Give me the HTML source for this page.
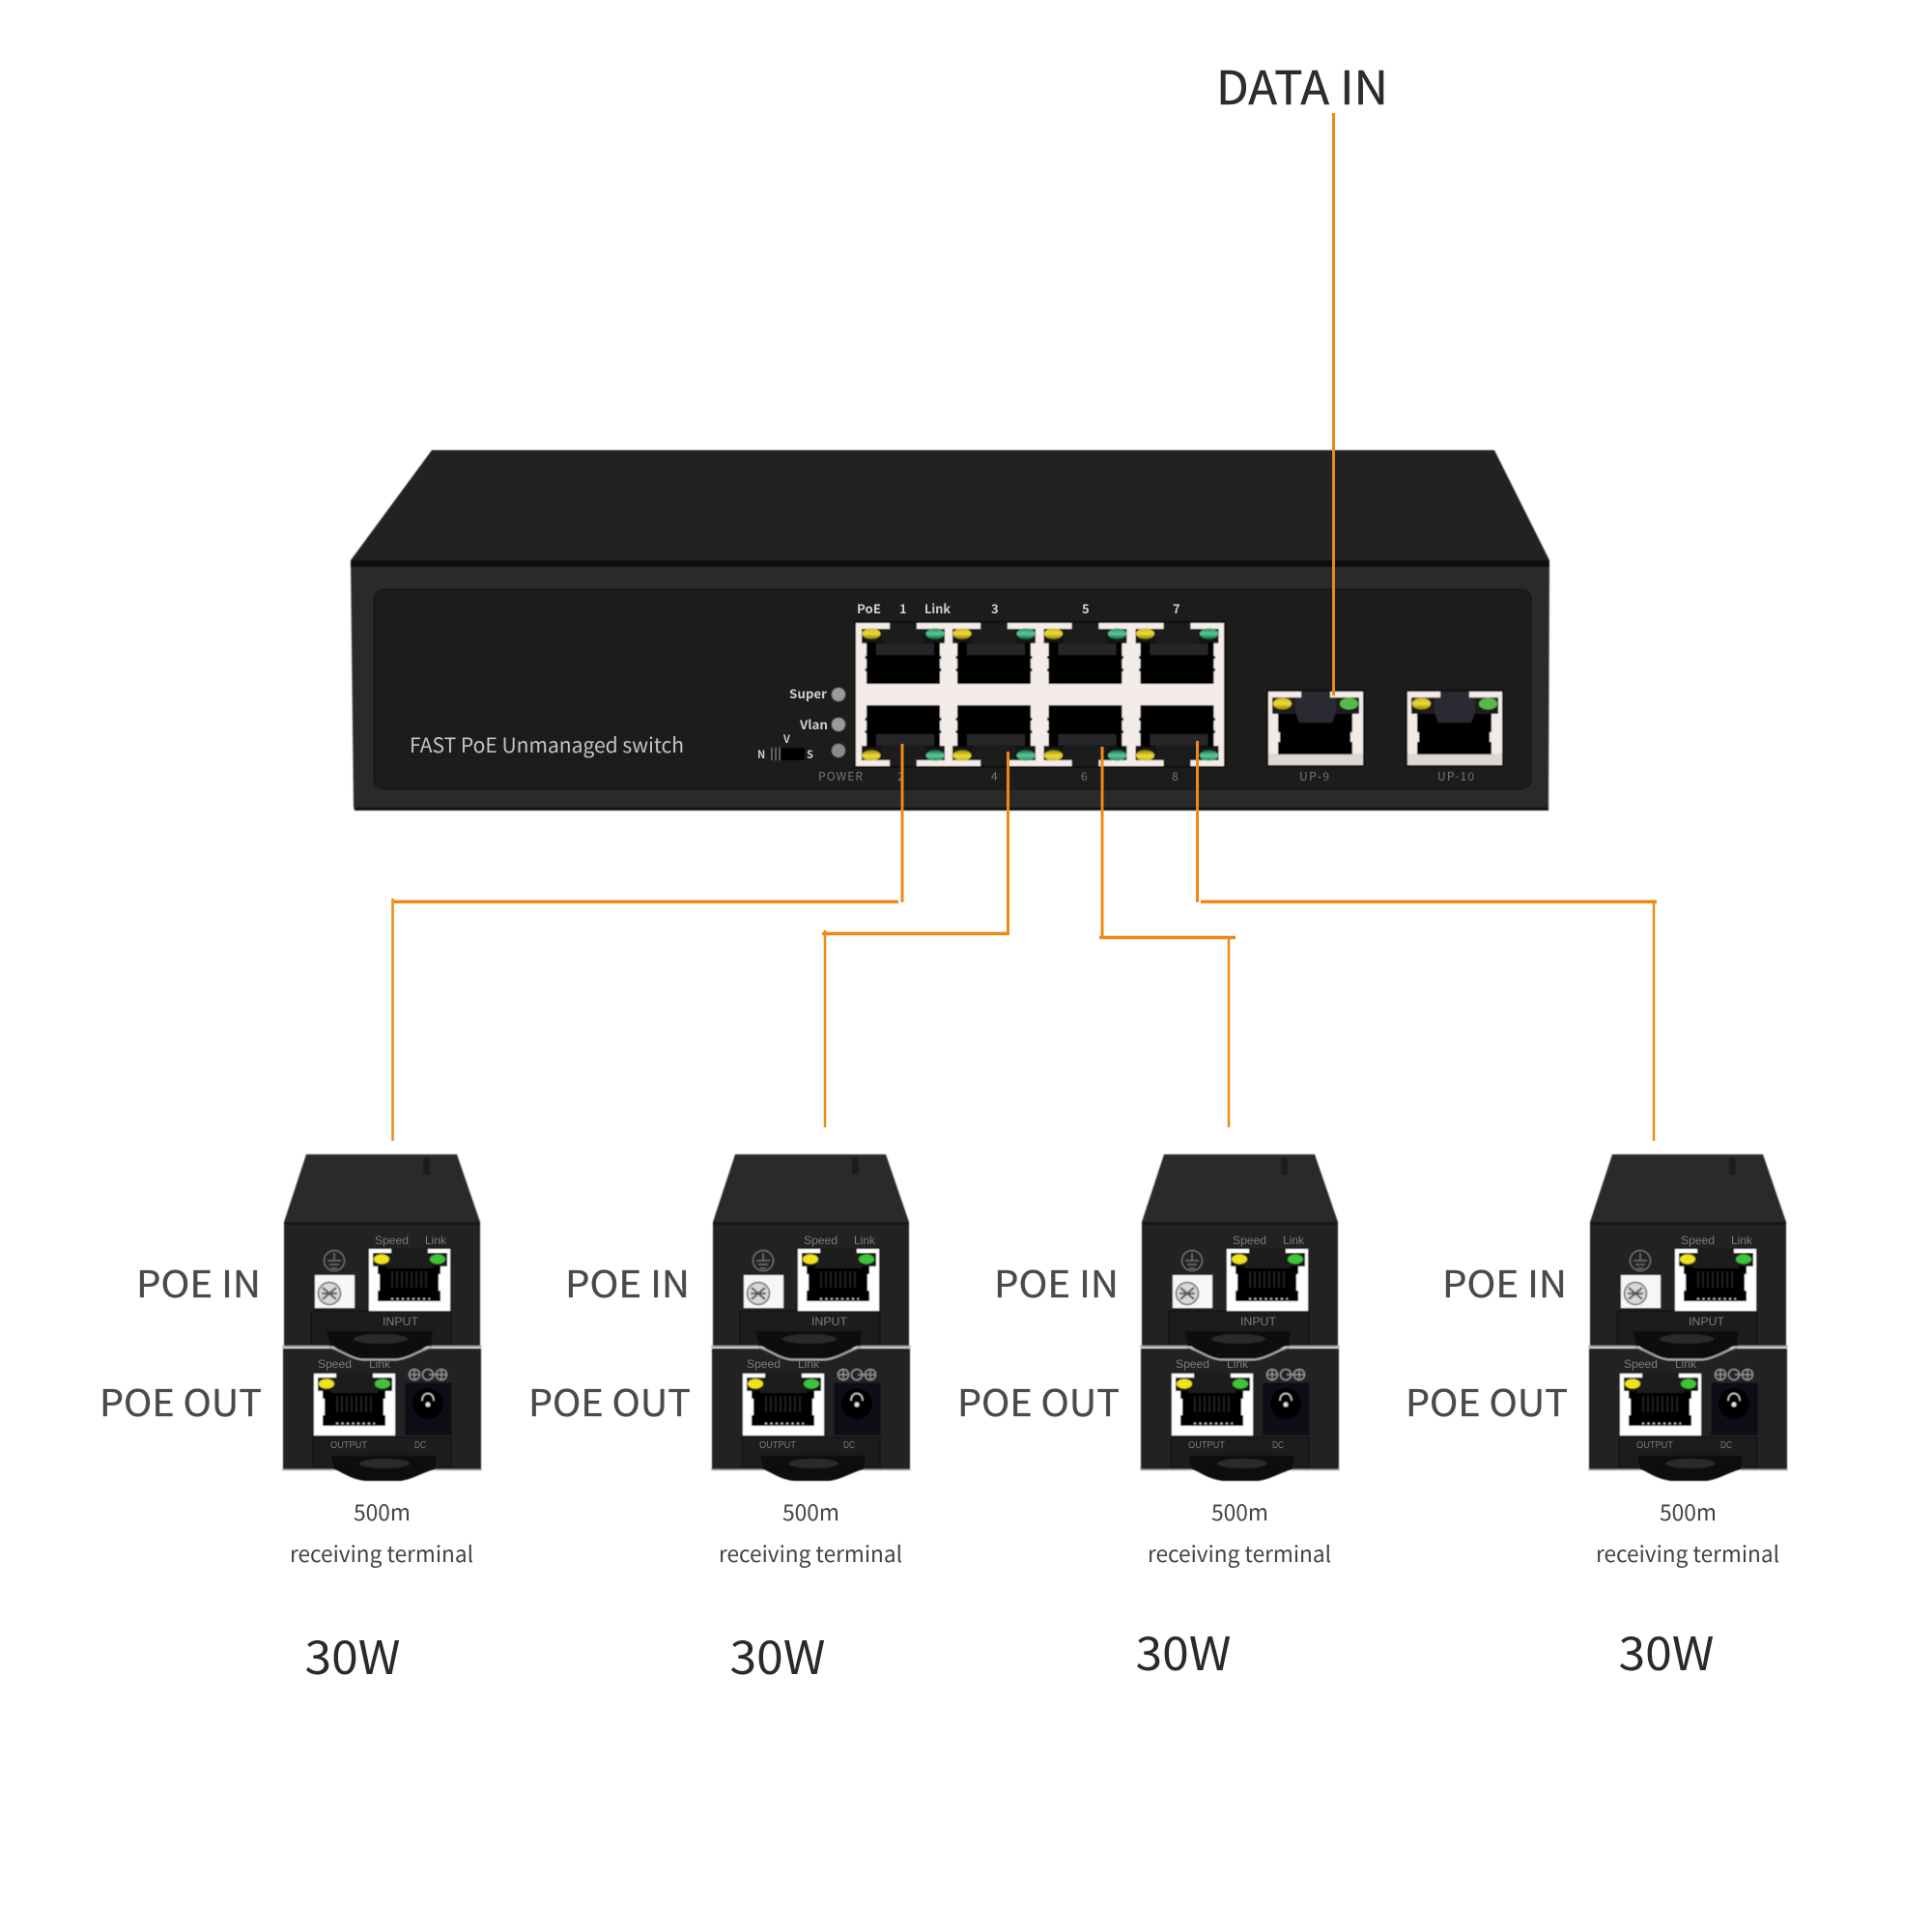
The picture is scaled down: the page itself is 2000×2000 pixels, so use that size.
<!DOCTYPE html>
<html><head><meta charset="utf-8">
<style>
html,body{margin:0;padding:0;background:#fff}
svg{display:block}
text{font-family:"Noto Sans CJK SC","Liberation Sans",sans-serif}
.b{font-family:"Liberation Sans",sans-serif}
.l{stroke:#4a4a4a;stroke-width:.35}
</style></head>
<body>
<svg width="2000" height="2000" viewBox="0 0 2000 2000" xmlns="http://www.w3.org/2000/svg">
<defs>
<filter id="s" x="-5%" y="-5%" width="110%" height="110%"><feGaussianBlur stdDeviation="0.45"/></filter>
<linearGradient id="yl" x1="0" y1="0" x2="0" y2="1"><stop offset="0" stop-color="#c9b62a"/><stop offset=".5" stop-color="#f0dc30"/><stop offset="1" stop-color="#8a8014"/></linearGradient>
<linearGradient id="gr" x1="0" y1="0" x2="0" y2="1"><stop offset="0" stop-color="#1f8a5a"/><stop offset=".5" stop-color="#5fc99a"/><stop offset="1" stop-color="#126a44"/></linearGradient>
<g id="sp">
 <rect x="-5" y="-14" width="86" height="15" fill="#161616"/>
 <rect x="0" y="0" width="76" height="43" fill="#050505"/>
 <rect x="-1.500" y="14" width="3" height="3" fill="#050505"/><rect x="-1.500" y="27" width="3" height="3" fill="#050505"/>
 <rect x="74.500" y="14" width="3" height="3" fill="#050505"/><rect x="74.500" y="27" width="3" height="3" fill="#050505"/>
 <rect x="10" y="1" width="60" height="12" fill="#26272a"/>
 <rect x="24" y="-20" width="28" height="8" fill="#1d1d1f"/>
 <rect x="16" y="-14" width="44" height="16" fill="#1d1d1f"/>
 <ellipse cx="5" cy="-9" rx="9.500" ry="5.500" fill="url(#yl)"/>
 <ellipse cx="71" cy="-9" rx="9.500" ry="5.500" fill="url(#gr)"/>
</g>
<g id="up">
 <rect x="0" y="0" width="98" height="76" fill="#f5ebe6"/>
 <rect x="0" y="64" width="98" height="12" fill="#dcd8d4"/>
 <path d="M10 22H87V42H85V52H87V65H10V52H12V42H10Z" fill="#050505"/>
 <rect x="4" y="6" width="90" height="17" fill="#1c1c1c"/>
 <path d="M34 0H64V6H70V22L66 32H32L28 22V6H34Z" fill="#2a2b30"/>
 <ellipse cx="14.500" cy="12.500" rx="9.500" ry="6" fill="url(#yl)"/>
 <ellipse cx="83.500" cy="12.500" rx="9.500" ry="6" fill="#58b848"/>
</g>
<g id="pi">
 <rect width="84" height="64" fill="#fff"/>
 <path d="M9 17H74V26H72V43H74V54H9V43H11V26H9Z" fill="#060606"/>
 <rect x="4" y="4" width="77" height="14" fill="#141414"/>
 <path d="M23 -1H61V6H66V20H18V6H23Z" fill="#1c1c1e"/>
 <ellipse cx="13" cy="10.500" rx="8" ry="5" fill="#f2e21a"/>
 <ellipse cx="71" cy="10.500" rx="8" ry="5" fill="#3fc23a"/>
 <g stroke="#2c2c2c" stroke-width="1.300"><path d="M24 23V40M29 23V40M34 23V40M39 23V40M44 23V40M49 23V40M54 23V40M59 23V40"/></g>
 <path d="M23 51.500H63" stroke="#ddd" stroke-width="1.500" stroke-dasharray="2 3.500"/>
</g>
<g id="dev">
 <path d="M317 1195H473L497 1265H294Z" fill="#2b2b2c"/>
 <rect x="438" y="1198" width="7" height="18" fill="#1f1f1f"/>
 <path d="M294 1265H497V1393H294Z" fill="#202021"/>
 <rect x="294" y="1265" width="203" height="3" fill="#141414"/>
 <rect x="322" y="1357" width="145" height="36" fill="#1a1a1b" stroke="#0d0d0d"/>
 <path d="M293 1396H498V1521H293Z" fill="#202021"/>
 <rect x="324" y="1488" width="143" height="33" fill="#1a1a1b" stroke="#0d0d0d"/>
 <path d="M338 1378H448L446 1392C436 1396 425 1403 412 1406H372C358 1403 350 1396 342 1392Z" fill="#0a0a0a"/>
 <ellipse cx="394" cy="1386" rx="28" ry="5" fill="#2c2c2c"/>
 <path d="M292 1394H340C352 1397 362 1406 375 1407.500H410C425 1406 435 1397 448 1394H499" fill="none" stroke="#a9a9a9" stroke-width="2"/>
 <path d="M343 1507H452L450 1521C438 1524 428 1531 415 1533H378C362 1531 355 1524 346 1521Z" fill="#0a0a0a"/>
 <ellipse cx="398" cy="1515" rx="26" ry="5" fill="#2c2c2c"/>
 <path d="M292 1521.500H346M450 1521.500H499" stroke="#aaa" stroke-width="1.500"/>
 <use href="#pi" x="382" y="1293"/>
 <rect x="326" y="1320" width="41" height="34" fill="#f6f6f6"/>
 <circle cx="341" cy="1339" r="11.500" fill="#d8d8d8" stroke="#666" stroke-width="1.500"/>
 <path d="M334 1333L348 1345M348 1333L334 1345M333 1339H349" stroke="#555" stroke-width="2"/>
 <circle cx="346" cy="1305" r="10.500" fill="none" stroke="#777" stroke-width="1.200"/>
 <path d="M346 1297V1305M339 1305H353M341 1309H351M343 1313H349" stroke="#777" stroke-width="1.200" fill="none"/>
 <use href="#pi" x="325" y="1422"/>
 <rect x="420" y="1432" width="47" height="53" fill="#111112" stroke="#0a0a0a"/>
 <circle cx="443" cy="1453" r="16" fill="#060606"/>
 <path d="M437 1450C437 1440 449 1440 449 1450" fill="none" stroke="#ccc" stroke-width="1.500"/>
 <circle cx="443" cy="1454" r="2.500" fill="#ddd"/>
 <g fill="none" stroke="#999" stroke-width="1.300"><circle cx="429" cy="1423" r="5.500"/><circle cx="443" cy="1423" r="5.500"/><circle cx="457" cy="1423" r="5.500"/><path d="M424 1423H434M429 1418V1428M444 1423H452M452 1423H462M457 1418V1428"/></g>
</g>
</defs>

<!-- switch -->
<g filter="url(#s)">
<path d="M447 466H1547L1604 580H363Z" fill="#242424"/>
<path d="M363 580H1604L1603 839H367L366 835Z" fill="#2a2a2a"/>
<rect x="363" y="580" width="1241" height="7" fill="#0e0e0e"/>
<rect x="387" y="610" width="1198" height="207" rx="10" fill="#1f1f1f" stroke="#111" stroke-width="1"/>
<rect x="367" y="836" width="1236" height="3" fill="#111"/>

<rect x="884" y="643" width="385" height="152" fill="#0b0b0b"/>
<rect x="886" y="645" width="381" height="148" fill="#f4ece8"/>
<use href="#sp" x="897" y="665"/><use href="#sp" x="991" y="665"/><use href="#sp" x="1085.500" y="665"/><use href="#sp" x="1180.500" y="665"/>
<g transform="translate(0,1438) scale(1,-1)">
<use href="#sp" x="897" y="665"/><use href="#sp" x="991" y="665"/><use href="#sp" x="1085.500" y="665"/><use href="#sp" x="1180.500" y="665"/>
</g>
<rect x="1311" y="714" width="102" height="80" fill="#0b0b0b"/>
<use href="#up" x="1313" y="716"/>
<rect x="1455" y="714" width="102" height="80" fill="#0b0b0b"/>
<use href="#up" x="1457" y="716"/>

<circle cx="868" cy="719" r="7" fill="#9a9a9a"/>
<circle cx="868" cy="750" r="7" fill="#9a9a9a"/>
<circle cx="868" cy="777" r="7" fill="#8a8a8a"/>
<rect x="797" y="774" width="36" height="13" fill="#000"/>
<path d="M799 774V787M803 774V787M807 774V787" stroke="#888" stroke-width="1.200"/>

<use href="#dev"/>
<use href="#dev" x="444"/>
<use href="#dev" x="888"/>
<use href="#dev" x="1352"/>
</g>

<g fill="#cfcfcf">
<text x="424" y="779" font-size="21" textLength="284" lengthAdjust="spacingAndGlyphs" fill="#c4c4c4">FAST PoE Unmanaged switch</text>
<text x="817" y="723" font-size="13" font-weight="700" textLength="39" lengthAdjust="spacingAndGlyphs">Super</text>
<text x="828" y="755" font-size="13" font-weight="700" textLength="29" lengthAdjust="spacingAndGlyphs">Vlan</text>
<text x="784" y="785" font-size="11" font-weight="700">N</text>
<text x="811" y="769" font-size="11" font-weight="700">V</text>
<text x="835" y="785" font-size="11" font-weight="700">S</text>
<text x="887" y="635" font-size="13" font-weight="700" textLength="25" lengthAdjust="spacingAndGlyphs">PoE</text>
<text x="931" y="635" font-size="13" font-weight="700">1</text>
<text x="957" y="635" font-size="13" font-weight="700" textLength="27" lengthAdjust="spacingAndGlyphs">Link</text>
<text x="1026" y="635" font-size="13" font-weight="700">3</text>
<text x="1120" y="635" font-size="13" font-weight="700">5</text>
<text x="1214" y="635" font-size="13" font-weight="700">7</text>
</g>
<g fill="#777">
<text x="847" y="808" font-size="12" textLength="46" lengthAdjust="spacing">POWER</text>
<text x="929" y="808" font-size="12">2</text>
<text x="1026" y="808" font-size="12">4</text>
<text x="1119" y="808" font-size="12">6</text>
<text x="1213" y="808" font-size="12">8</text>
<text x="1345" y="808" font-size="12" textLength="31" lengthAdjust="spacing">UP-9</text>
<text x="1488" y="808" font-size="12" textLength="38" lengthAdjust="spacing">UP-10</text>
</g>

<!-- orange connectors -->
<g fill="none" stroke="#ee8a14">
<path d="M1380.500 117V720" stroke-width="3"/>
<path d="M934 770V934" stroke-width="3"/>
<path d="M408 933.500H930" stroke-width="3.500"/>
<path d="M406.500 930V1181" stroke-width="2.500"/>
<path d="M1043.500 778V968" stroke-width="3"/>
<path d="M851 966.500H1044" stroke-width="3.500"/>
<path d="M854 963V1167" stroke-width="2.500"/>
<path d="M1141 773V971" stroke-width="3"/>
<path d="M1138 970.500H1279" stroke-width="3.500"/>
<path d="M1272 970V1167" stroke-width="2.500"/>
<path d="M1239.500 767V934" stroke-width="3"/>
<path d="M1243 933.500H1715" stroke-width="3.500"/>
<path d="M1712 932V1181" stroke-width="2.500"/>
</g>

<text x="1259" y="108" font-size="48" fill="#2c2c2c" stroke="#2c2c2c" stroke-width=".4" textLength="178" lengthAdjust="spacingAndGlyphs">DATA IN</text>

<!-- device labels 1 -->
<g transform="translate(0,0)">
<text class="l" x="141" y="1343" font-size="38" fill="#4a4a4a" textLength="129" lengthAdjust="spacingAndGlyphs">POE IN</text>
<text class="l" x="103" y="1466" font-size="38" fill="#4a4a4a" textLength="168" lengthAdjust="spacingAndGlyphs">POE OUT</text>
<g fill="#7c7c7c" font-size="12">
<text class="b" x="388" y="1288" textLength="35" lengthAdjust="spacingAndGlyphs">Speed</text>
<text class="b" x="440" y="1288" textLength="22" lengthAdjust="spacingAndGlyphs">Link</text>
<text class="b" x="396" y="1372" textLength="37" lengthAdjust="spacingAndGlyphs">INPUT</text>
<text class="b" x="329" y="1416" textLength="35" lengthAdjust="spacingAndGlyphs">Speed</text>
<text class="b" x="382" y="1416" textLength="22" lengthAdjust="spacingAndGlyphs">Link</text>
<text class="b" x="342" y="1499" font-size="10" textLength="38" lengthAdjust="spacingAndGlyphs">OUTPUT</text>
<text class="b" x="429" y="1499" font-size="10" textLength="12" lengthAdjust="spacingAndGlyphs">DC</text>
</g>
<text x="366" y="1574" font-size="23" fill="#444" textLength="59" lengthAdjust="spacingAndGlyphs">500m</text>
<text x="300" y="1617" font-size="23" fill="#444" textLength="190" lengthAdjust="spacingAndGlyphs">receiving terminal</text>
</g>
<!-- device labels 2 -->
<g transform="translate(444,0)">
<text class="l" x="141" y="1343" font-size="38" fill="#4a4a4a" textLength="129" lengthAdjust="spacingAndGlyphs">POE IN</text>
<text class="l" x="103" y="1466" font-size="38" fill="#4a4a4a" textLength="168" lengthAdjust="spacingAndGlyphs">POE OUT</text>
<g fill="#7c7c7c" font-size="12">
<text class="b" x="388" y="1288" textLength="35" lengthAdjust="spacingAndGlyphs">Speed</text>
<text class="b" x="440" y="1288" textLength="22" lengthAdjust="spacingAndGlyphs">Link</text>
<text class="b" x="396" y="1372" textLength="37" lengthAdjust="spacingAndGlyphs">INPUT</text>
<text class="b" x="329" y="1416" textLength="35" lengthAdjust="spacingAndGlyphs">Speed</text>
<text class="b" x="382" y="1416" textLength="22" lengthAdjust="spacingAndGlyphs">Link</text>
<text class="b" x="342" y="1499" font-size="10" textLength="38" lengthAdjust="spacingAndGlyphs">OUTPUT</text>
<text class="b" x="429" y="1499" font-size="10" textLength="12" lengthAdjust="spacingAndGlyphs">DC</text>
</g>
<text x="366" y="1574" font-size="23" fill="#444" textLength="59" lengthAdjust="spacingAndGlyphs">500m</text>
<text x="300" y="1617" font-size="23" fill="#444" textLength="190" lengthAdjust="spacingAndGlyphs">receiving terminal</text>
</g>
<!-- device labels 3 -->
<g transform="translate(888,0)">
<text class="l" x="141" y="1343" font-size="38" fill="#4a4a4a" textLength="129" lengthAdjust="spacingAndGlyphs">POE IN</text>
<text class="l" x="103" y="1466" font-size="38" fill="#4a4a4a" textLength="168" lengthAdjust="spacingAndGlyphs">POE OUT</text>
<g fill="#7c7c7c" font-size="12">
<text class="b" x="388" y="1288" textLength="35" lengthAdjust="spacingAndGlyphs">Speed</text>
<text class="b" x="440" y="1288" textLength="22" lengthAdjust="spacingAndGlyphs">Link</text>
<text class="b" x="396" y="1372" textLength="37" lengthAdjust="spacingAndGlyphs">INPUT</text>
<text class="b" x="329" y="1416" textLength="35" lengthAdjust="spacingAndGlyphs">Speed</text>
<text class="b" x="382" y="1416" textLength="22" lengthAdjust="spacingAndGlyphs">Link</text>
<text class="b" x="342" y="1499" font-size="10" textLength="38" lengthAdjust="spacingAndGlyphs">OUTPUT</text>
<text class="b" x="429" y="1499" font-size="10" textLength="12" lengthAdjust="spacingAndGlyphs">DC</text>
</g>
<text x="366" y="1574" font-size="23" fill="#444" textLength="59" lengthAdjust="spacingAndGlyphs">500m</text>
<text x="300" y="1617" font-size="23" fill="#444" textLength="190" lengthAdjust="spacingAndGlyphs">receiving terminal</text>
</g>
<!-- device labels 4 -->
<g transform="translate(1352,0)">
<text class="l" x="141" y="1343" font-size="38" fill="#4a4a4a" textLength="129" lengthAdjust="spacingAndGlyphs">POE IN</text>
<text class="l" x="103" y="1466" font-size="38" fill="#4a4a4a" textLength="168" lengthAdjust="spacingAndGlyphs">POE OUT</text>
<g fill="#7c7c7c" font-size="12">
<text class="b" x="388" y="1288" textLength="35" lengthAdjust="spacingAndGlyphs">Speed</text>
<text class="b" x="440" y="1288" textLength="22" lengthAdjust="spacingAndGlyphs">Link</text>
<text class="b" x="396" y="1372" textLength="37" lengthAdjust="spacingAndGlyphs">INPUT</text>
<text class="b" x="329" y="1416" textLength="35" lengthAdjust="spacingAndGlyphs">Speed</text>
<text class="b" x="382" y="1416" textLength="22" lengthAdjust="spacingAndGlyphs">Link</text>
<text class="b" x="342" y="1499" font-size="10" textLength="38" lengthAdjust="spacingAndGlyphs">OUTPUT</text>
<text class="b" x="429" y="1499" font-size="10" textLength="12" lengthAdjust="spacingAndGlyphs">DC</text>
</g>
<text x="366" y="1574" font-size="23" fill="#444" textLength="59" lengthAdjust="spacingAndGlyphs">500m</text>
<text x="300" y="1617" font-size="23" fill="#444" textLength="190" lengthAdjust="spacingAndGlyphs">receiving terminal</text>
</g>

<g font-size="48" fill="#2a2a2a">
<text x="315.500" y="1733" textLength="99" lengthAdjust="spacingAndGlyphs">30W</text>
<text x="755.500" y="1733" textLength="99" lengthAdjust="spacingAndGlyphs">30W</text>
<text x="1175.500" y="1729" textLength="99" lengthAdjust="spacingAndGlyphs">30W</text>
<text x="1675.500" y="1729" textLength="99" lengthAdjust="spacingAndGlyphs">30W</text>
</g>
</svg>
</body></html>
